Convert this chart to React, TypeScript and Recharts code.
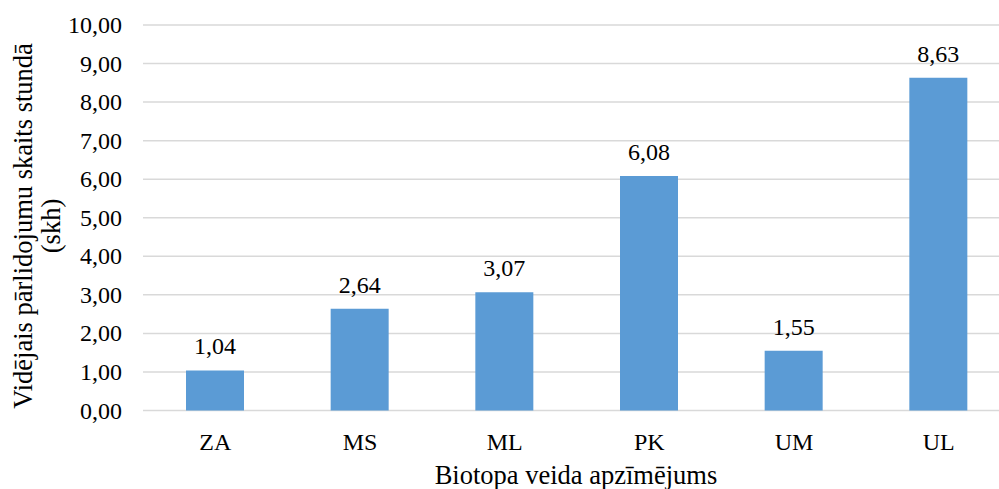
import React from "react";
import {
  BarChart,
  Bar,
  XAxis,
  YAxis,
  CartesianGrid,
  LabelList,
} from "recharts";

const categories = ["ZA", "MS", "ML", "PK", "UM", "UL"];
const values = [1.04, 2.64, 3.07, 6.08, 1.55, 8.63];
const yTicks = [0, 1, 2, 3, 4, 5, 6, 7, 8, 9, 10];

const data = categories.map((name, i) => ({ name, value: values[i] }));

const FONT = "'Times New Roman', 'Liberation Serif', serif";
const fmt = (v: number) => v.toFixed(2).replace(".", ",");

const YTitle = () => (
  <text
    transform="rotate(-90, 32, 226)"
    x={32}
    y={226}
    textAnchor="middle"
    fontFamily={FONT}
    fontSize={26.5}
    fill="#000"
  >
    <tspan x={32} dy={0}>Vidējais pārlidojumu skaits stundā</tspan>
    <tspan x={32} dy={28}>(skh)</tspan>
  </text>
);

const XTitle = () => (
  <text
    x={576}
    y={484}
    textAnchor="middle"
    fontFamily={FONT}
    fontSize={26.5}
    fill="#000"
  >
    Biotopa veida apzīmējums
  </text>
);

const XTick = (props: any) => {
  const { x, y, payload } = props;
  return (
    <text
      x={x}
      y={y + 31}
      textAnchor="middle"
      fontFamily={FONT}
      fontSize={24}
      fill="#000"
    >
      {payload.value}
    </text>
  );
};

const YTick = (props: any) => {
  const { y, payload } = props;
  return (
    <text
      x={122}
      y={y + 8}
      textAnchor="end"
      fontFamily={FONT}
      fontSize={24}
      fill="#000"
    >
      {fmt(payload.value)}
    </text>
  );
};

const ValueLabel = (props: any) => {
  const { x, y, width, value } = props;
  return (
    <text
      x={x + width / 2}
      y={y - 16}
      textAnchor="middle"
      fontFamily={FONT}
      fontSize={24}
      fill="#000"
    >
      {fmt(Number(value))}
    </text>
  );
};

const App = () => {
  return (
    <div
      style={{
        position: "fixed",
        left: 0,
        top: 0,
        width: 999,
        height: 489,
        overflow: "hidden",
        background: "#fff",
      }}
    >
      <BarChart
        width={1020}
        height={489}
        data={data}
        margin={{ top: 25, right: 9, left: 0, bottom: 0 }}
        style={{ fontFamily: FONT }}
      >
        <CartesianGrid
          horizontal
          vertical={false}
          stroke="#d9d9d9"
          strokeWidth={1.5}
        />
        <XAxis
          dataKey="name"
          height={78.5}
          axisLine={false}
          tickLine={false}
          tick={<XTick />}
          label={{ content: () => <XTitle /> }}
        />
        <YAxis
          width={143}
          domain={[0, 10]}
          ticks={yTicks}
          interval={0}
          axisLine={false}
          tickLine={false}
          tick={<YTick />}
          label={{ content: () => <YTitle /> }}
        />
        <Bar
          dataKey="value"
          fill="#5b9bd5"
          barSize={58}
          isAnimationActive={false}
        >
          <LabelList dataKey="value" content={<ValueLabel />} />
        </Bar>
      </BarChart>
    </div>
  );
};

export default App;
